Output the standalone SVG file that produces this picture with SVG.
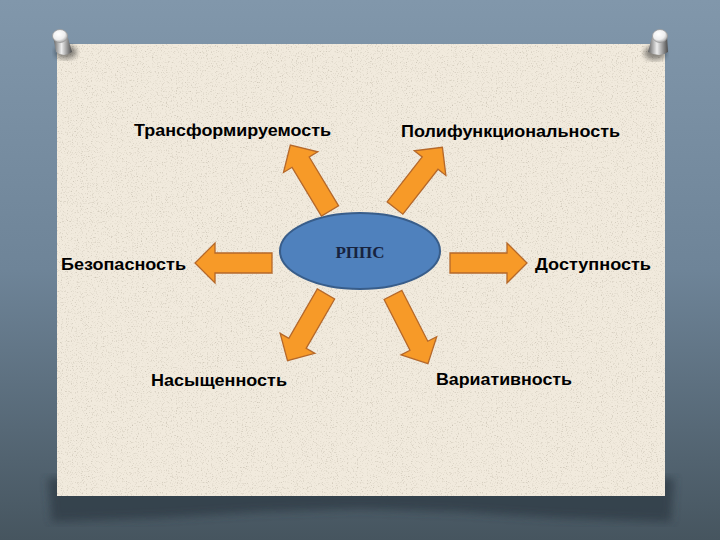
<svg xmlns="http://www.w3.org/2000/svg" width="720" height="540" viewBox="0 0 720 540">
<defs>
<linearGradient id="bg" x1="0" y1="0" x2="0" y2="1">
<stop offset="0" stop-color="#8197ab"/>
<stop offset="0.5" stop-color="#6e8498"/>
<stop offset="1" stop-color="#46555f"/>
</linearGradient>
<filter id="paperTex" x="0" y="0" width="1" height="1">
<feTurbulence type="fractalNoise" baseFrequency="0.8" numOctaves="2" seed="5" result="n"/>
<feColorMatrix in="n" type="matrix" values="0 0 0 0 0.6  0 0 0 0 0.55  0 0 0 0 0.46  0 0 0 -3 1.35" result="dots"/>
<feComposite in="dots" in2="SourceGraphic" operator="in" result="d2"/>
<feMerge><feMergeNode in="SourceGraphic"/><feMergeNode in="d2"/></feMerge>
</filter>
<filter id="blur4"><feGaussianBlur stdDeviation="4"/></filter>
<filter id="blur2"><feGaussianBlur stdDeviation="2.5"/></filter>
<radialGradient id="pinHead" cx="0.4" cy="0.35" r="0.7">
<stop offset="0" stop-color="#ffffff"/>
<stop offset="0.6" stop-color="#eeeeee"/>
<stop offset="1" stop-color="#a0a0a0"/>
</radialGradient>
<linearGradient id="pinBody" x1="0" y1="0" x2="1" y2="0">
<stop offset="0" stop-color="#5e5e5e"/>
<stop offset="0.45" stop-color="#eeeeee"/>
<stop offset="1" stop-color="#4a4a4a"/>
</linearGradient>
<path id="arr" d="M0,-10 L57,-10 L57,-20 L77,0 L57,20 L57,10 L0,10 Z"/>
</defs>
<style>
.arrow{fill:#f79a28;stroke:#b5682a;stroke-width:1.3;stroke-linejoin:miter}
.lbl{font-family:"Liberation Sans",Arial,sans-serif;font-weight:bold;font-size:17px;fill:#000}
.ctr{font-family:"Liberation Serif","Times New Roman",serif;font-weight:bold;font-size:17px;fill:#17233f}
</style>

<rect x="0" y="0" width="720" height="540" fill="url(#bg)"/>

<g id="paper">
<path d="M48,478 L674,478 L671,522 L560,518 L460,512 L360,509 L260,512 L160,518 L52,522 Z" fill="#2f3a44" opacity="0.75" filter="url(#blur4)"/>
<rect x="57" y="44" width="608" height="452" fill="#f1eadd" filter="url(#paperTex)"/>
</g>

<g id="pins">
<g id="pin-left">
<ellipse cx="66" cy="52" rx="11" ry="7" fill="#111" opacity="0.45" filter="url(#blur2)"/>
<path d="M53,36 L68,38 L72,52 Q64,58 56,52 Z" fill="url(#pinBody)"/>
<ellipse cx="60" cy="36" rx="7.5" ry="6.5" fill="url(#pinHead)" stroke="#999" stroke-width="0.8"/>
</g>
<g id="pin-right">
<ellipse cx="655" cy="53" rx="11" ry="7" fill="#111" opacity="0.45" filter="url(#blur2)"/>
<path d="M652,37 L667,36 L668,52 Q660,58 648,52 Z" fill="url(#pinBody)"/>
<ellipse cx="660" cy="36" rx="7.5" ry="6.5" fill="url(#pinHead)" stroke="#999" stroke-width="0.8"/>
</g>
</g>

<g id="connectors">
<use href="#arr" class="arrow" transform="translate(272,263) rotate(180)"/>
<use href="#arr" class="arrow" transform="translate(450,263)"/>
<use href="#arr" class="arrow" transform="translate(330,211) rotate(-121)"/>
<use href="#arr" class="arrow" transform="translate(395,208) rotate(-52)"/>
<use href="#arr" class="arrow" transform="translate(326,294) rotate(120)"/>
<use href="#arr" class="arrow" transform="translate(393,295) rotate(63)"/>
</g>

<g id="center">
<ellipse cx="360" cy="251" rx="80" ry="38" fill="#4f81bd" stroke="#385d8a" stroke-width="2"/>
<text class="ctr" x="360" y="258" text-anchor="middle">РППС</text>
</g>

<g id="n-transform"><text class="lbl" x="134" y="136" textLength="197" lengthAdjust="spacingAndGlyphs">Трансформируемость</text></g>
<g id="n-poly"><text class="lbl" x="401" y="137" textLength="219" lengthAdjust="spacingAndGlyphs">Полифункциональность</text></g>
<g id="n-safe"><text class="lbl" x="61" y="270" textLength="125" lengthAdjust="spacingAndGlyphs">Безопасность</text></g>
<g id="n-access"><text class="lbl" x="535" y="270" textLength="116" lengthAdjust="spacingAndGlyphs">Доступность</text></g>
<g id="n-sat"><text class="lbl" x="151" y="386" textLength="136" lengthAdjust="spacingAndGlyphs">Насыщенность</text></g>
<g id="n-var"><text class="lbl" x="436" y="385" textLength="136" lengthAdjust="spacingAndGlyphs">Вариативность</text></g>
</svg>
